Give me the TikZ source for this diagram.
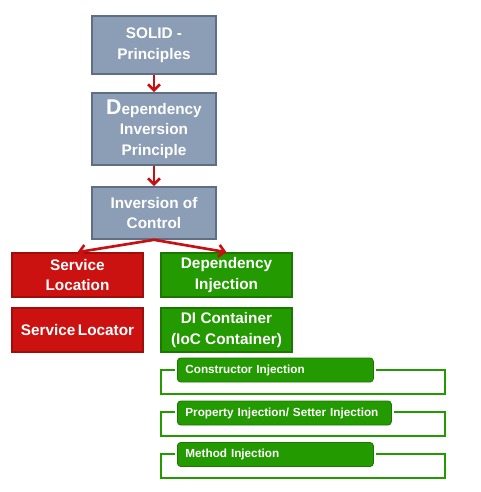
\documentclass[tikz,border=0pt]{standalone}
\usepackage{fontspec}
\setmainfont{Liberation Sans}
\usetikzlibrary{arrows.meta}

\definecolor{slate}{HTML}{8C9DB6}
\definecolor{slateline}{HTML}{5F6E83}
\definecolor{dred}{HTML}{CC1111}
\definecolor{dredline}{HTML}{A00D0D}
\definecolor{dgreen}{HTML}{229A00}
\definecolor{dgreenline}{HTML}{1A7800}
\definecolor{arrowred}{HTML}{C81010}

\tikzset{
  greybox/.style={draw=slateline, fill=slate, line width=1.2pt, text=white,
    font=\bfseries\fontsize{11.5}{15.5}\selectfont, align=center,
    minimum width=93pt, inner sep=2pt},
  redbox/.style={draw=dredline, fill=dred, line width=1.2pt, text=white,
    font=\bfseries\fontsize{11.5}{15.5}\selectfont, align=center,
    minimum width=98pt, minimum height=33pt, inner sep=2pt},
  greenbox/.style={redbox, draw=dgreenline, fill=dgreen},
  pill/.style={draw=dgreenline, fill=dgreen, line width=0.6pt, rounded corners=2.5pt,
    text=white, font=\bfseries\fontsize{8.8}{10}\selectfont, align=left,
    minimum height=18pt, inner xsep=6pt, anchor=west},
  frame/.style={draw=dgreen, line width=1.5pt},
  redarrow/.style={draw=arrowred, line width=2pt, -{Straight Barb[length=4.5pt,width=9pt]}}
}

\begin{document}
\begin{tikzpicture}[x=0.75pt,y=-0.75pt]
\useasboundingbox (0,0) rectangle (481,492);

\node[greybox, minimum height=43.5pt] (solid) at (154,45) {SOLID -\\Principles};
\node[greybox, minimum height=54pt] (dip) at (154,129) {{\fontsize{16}{15.5}\selectfont D}ependency\\Inversion\\Principle};
\node[greybox, minimum height=39pt] (ioc) at (154,213) {Inversion of\\Control};

\node[redbox] (sloc) at (77.5,275) {Service\\Location};
\node[greenbox] (di) at (226.5,275) {Dependency\\Injection};
\node[redbox] (slocator) at (77.5,330) {Service\,Locator};
\node[greenbox] (dic) at (226.5,330) {DI Container\\(IoC Container)};

% injection kinds
\path[frame] (175,370) -- (161,370) -- (161,394) -- (445,394) -- (445,370) -- (376,370);
\path[frame] (175,412) -- (161,412) -- (161,436) -- (445,436) -- (445,412) -- (394,412);
\path[frame] (175,454) -- (161,454) -- (161,478) -- (445,478) -- (445,454) -- (376,454);
\node[pill, text width=135pt] (ctor) at (177,370) {Constructor Injection};
\node[pill, text width=148.5pt] (prop) at (177,413) {Property Injection/ Setter Injection};
\node[pill, text width=135pt] (meth) at (177,454.5) {Method Injection};

\path[redarrow] (solid) -- (dip);
\path[redarrow] (dip) -- (ioc);
\path[redarrow] (ioc.south) -- (sloc.north);
\path[redarrow] (ioc.south) -- (di.north);
\end{tikzpicture}
\end{document}
